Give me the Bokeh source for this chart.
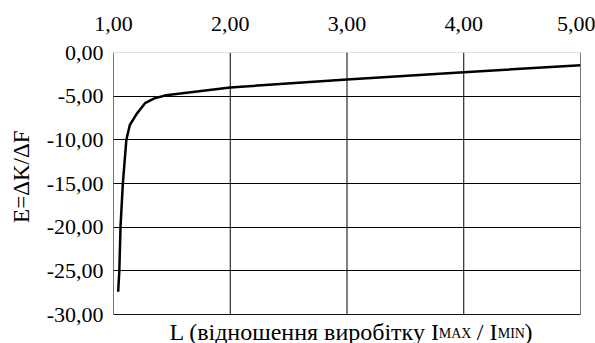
from bokeh.plotting import figure
from bokeh.models import Range1d, FixedTicker, CustomJSTickFormatter, ColumnDataSource, BoxAnnotation, Title
from bokeh.core.properties import value
from bokeh.embed import file_html
from bokeh.resources import INLINE

# Data
ratio_L = [1.04, 1.05, 1.06, 1.08, 1.11, 1.14, 1.20, 1.27, 1.35, 1.45, 2.0, 3.0, 4.0, 5.0]
elasticity_E = [-27.4, -25.0, -20.0, -15.0, -10.0, -8.3, -7.0, -5.8, -5.25, -4.9, -4.0, -3.1, -2.25, -1.45]

x_ticks = [1, 2, 3, 4, 5]
y_ticks = [0, -5, -10, -15, -20, -25, -30]

y_label = "E=ΔK/ΔF"
x_label_parts = ["L (відношення виробітку I", "MAX", "/ I", "MIN", ")"]

FONT = "Liberation Serif"

# layout in pixels
W, H = 595, 343
LEFT, RIGHT, TOP, PLOT_BOTTOM = 112, 580, 52, 314

x_min, x_max = x_ticks[0], x_ticks[-1]
y_top, y_low = y_ticks[0], y_ticks[-1]
px_per_y = (PLOT_BOTTOM - TOP) / (y_top - y_low)
px_per_x = (RIGHT - LEFT) / (x_max - x_min)
# the frame is extended below the plot area to host the x-axis title
y_frame_low = y_low - (H - PLOT_BOTTOM) / px_per_y

p = figure(width=W, height=H, output_backend="svg", toolbar_location=None,
           x_range=Range1d(x_min, x_max), y_range=Range1d(y_frame_low, y_top),
           x_axis_location="above",
           min_border_left=LEFT, min_border_right=W - RIGHT, min_border_top=TOP, min_border_bottom=0,
           background_fill_color="white", border_fill_color="white")
p.outline_line_color = None

fmt = CustomJSTickFormatter(code="return tick.toFixed(2).replace('.', ',');")

for ax, ticks in ((p.xaxis[0], x_ticks), (p.yaxis[0], y_ticks)):
    ax.ticker = FixedTicker(ticks=ticks)
    ax.formatter = fmt
    ax.major_tick_in = 0
    ax.major_tick_out = 0
    ax.minor_tick_in = 0
    ax.minor_tick_out = 0
    ax.axis_line_color = None
    ax.major_label_text_font = FONT
    ax.major_label_text_font_size = "22px"
    ax.major_label_text_color = "black"

p.xaxis[0].major_label_standoff = 22
p.yaxis[0].major_label_standoff = 10

# y-axis title (rotated, on the left)
p.add_layout(Title(text=y_label, align="right", offset=78, vertical_align="top",
                   text_font=FONT, text_font_size="23px", text_font_style="normal",
                   text_color="black", standoff=16), "left")

# grid: horizontal lines via grid, vertical lines limited to the plot area
p.xgrid.visible = False
p.ygrid.ticker = FixedTicker(ticks=y_ticks)
p.ygrid.grid_line_color = "black"
p.ygrid.grid_line_width = 1
p.segment(x0=x_ticks, y0=[y_top] * len(x_ticks), x1=x_ticks, y1=[y_low] * len(x_ticks),
          line_color="black", line_width=1)

# plot-area border
p.add_layout(BoxAnnotation(left=x_min, right=x_max, top=y_top, bottom=y_low,
                           fill_color=None, line_color="#404040", line_width=1))

p.line(ratio_L, elasticity_E, line_color="black", line_width=2.5)

# x-axis title with subscripts, placed below the plot area
piece_px = [56, 326, 364, 385, 412]           # left edges from the frame's left side
piece_base_px = [331, 333, 331, 333, 331]     # baselines from the top of the canvas
piece_size = ["24px", "14px", "24px", "14px", "24px"]
piece_x = [x_min + v / px_per_x for v in piece_px]
piece_y = [y_low - (b - PLOT_BOTTOM) / px_per_y for b in piece_base_px]

src = ColumnDataSource(dict(x=piece_x, y=piece_y, text=x_label_parts, size=piece_size))
p.text(x="x", y="y", text="text", source=src, text_font=value(FONT),
       text_font_size="size", text_color="black", text_align="left",
       text_baseline="alphabetic")

open("out.html", "w").write(file_html(p, INLINE))
